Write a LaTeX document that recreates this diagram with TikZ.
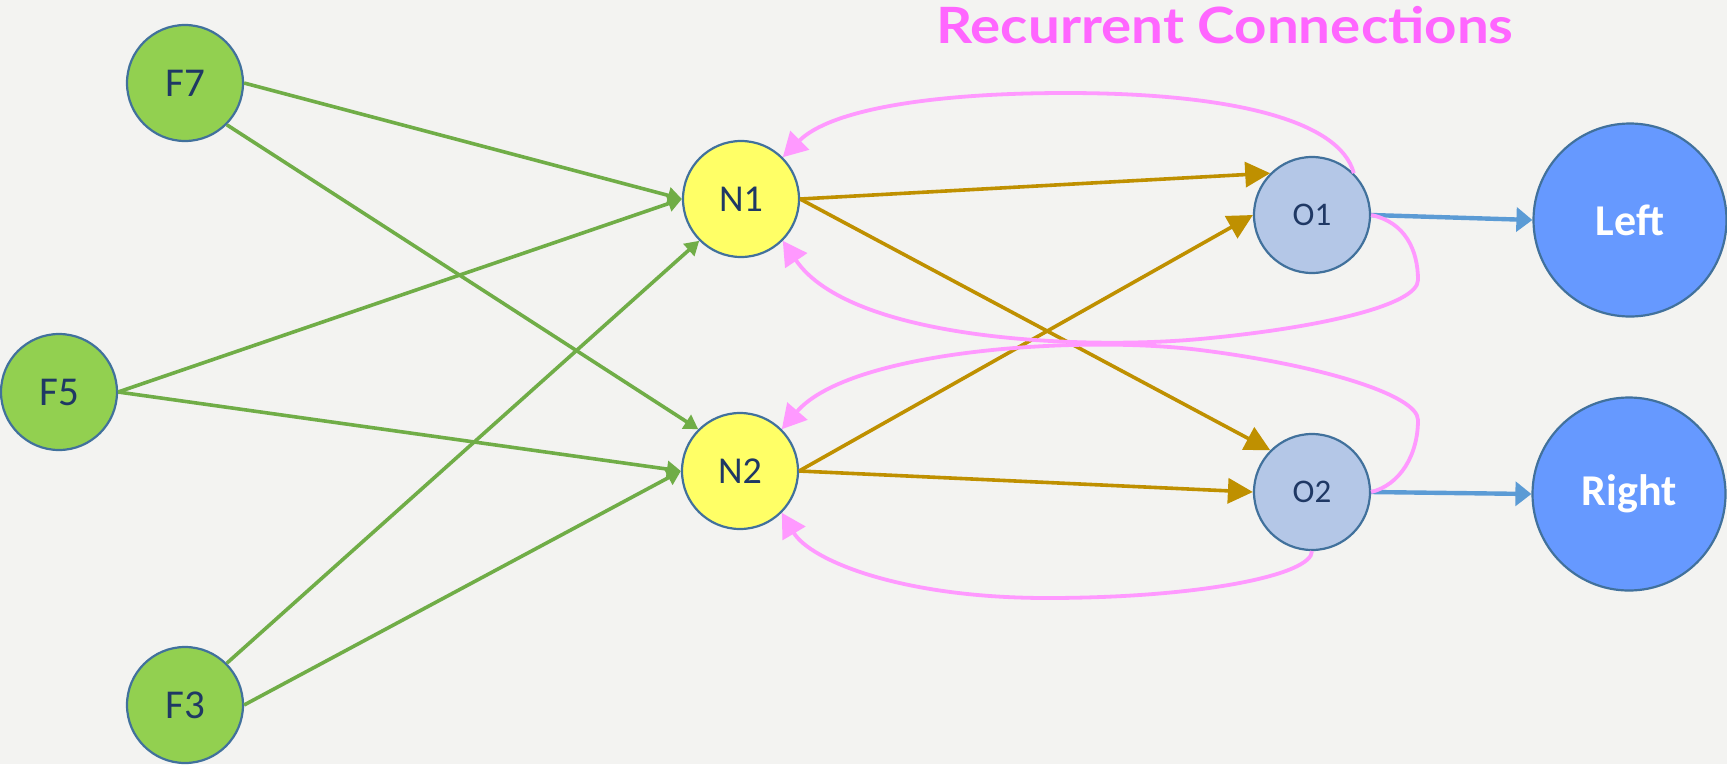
\documentclass[tikz,border=0pt]{standalone}
\usepackage{fontspec}
\usepackage{graphicx}
\setmainfont{Carlito}
\newfontfamily\titlefont{Lato}
\usetikzlibrary{arrows.meta}
\definecolor{bgc}{HTML}{F3F3F1}
\definecolor{ringc}{HTML}{41719C}
\definecolor{txtc}{HTML}{1F3864}
\definecolor{fgreen}{HTML}{92D050}
\definecolor{nyellow}{HTML}{FFFF66}
\definecolor{olblue}{HTML}{B4C7E7}
\definecolor{outblue}{HTML}{6699FF}
\definecolor{egreen}{HTML}{70AD47}
\definecolor{egold}{HTML}{BF9000}
\definecolor{eblue}{HTML}{5B9BD5}
\definecolor{epink}{HTML}{FF99FF}
\definecolor{tpink}{HTML}{FF66FF}
\tikzset{
  neuron/.style={circle, draw=ringc, line width=2.2pt, inner sep=0pt, text=txtc},
  fnode/.style={neuron, fill=fgreen, minimum size=116pt, font=\fontsize{41}{41}\selectfont},
  nnode/.style={neuron, fill=nyellow, minimum size=116pt, font=\fontsize{38}{38}\selectfont},
  onode/.style={neuron, fill=olblue, minimum size=116pt, font=\fontsize{33}{33}\selectfont},
  outnode/.style={neuron, fill=outblue, minimum size=193pt, text=white, font=\fontsize{44}{44}\selectfont\bfseries},
  garrow/.style={draw=egreen, line width=3.6pt, -{Triangle[length=14pt,width=16pt]}},
  darrow/.style={draw=egold, line width=3.6pt, -{Triangle[length=25pt,width=25pt]}},
  barrow/.style={draw=eblue, line width=4.4pt, -{Triangle[length=16pt,width=24pt]}},
  parrow/.style={draw=epink, line width=3.8pt, -{Triangle[length=24pt,width=26pt]}},
}
\begin{document}
\begin{tikzpicture}[x=1pt,y=-1pt]
\fill[bgc] (0,0) rectangle (1727,764);
\useasboundingbox (0,0) rectangle (1727,764);

\node[anchor=base, text=tpink, inner sep=0pt, font=\titlefont\bfseries\fontsize{50}{50}\selectfont] (title) at (1225,43) {\scalebox{1.13}[1]{Recurrent Connections}};

\node[fnode] (F7) at (185,83) {F7};
\node[fnode] (F5) at (59,392) {F5};
\node[fnode] (F3) at (185,705) {F3};
\node[nnode] (N1) at (741,199) {N1};
\node[nnode] (N2) at (740,471) {N2};
\node[onode] (O1) at (1312,215) {O1};
\node[onode] (O2) at (1312,492) {O2};
\node[outnode] (L) at (1630,220) {Left};
\node[outnode] (R) at (1629,494) {Right};

\draw[garrow] (F7.east) -- (N1.west);
\draw[garrow] (F7.south east) -- (N2.north west);
\draw[garrow] (F5.east) -- (N1.west);
\draw[garrow] (F5.east) -- (N2.west);
\draw[garrow] (F3.north east) -- (N1.south west);
\draw[garrow] (F3.east) -- (N2.west);

\draw[darrow] (N1.east) -- (O1.north west);
\draw[darrow] (N1.east) -- (O2.north west);
\draw[darrow] (N2.east) -- (O1.west);
\draw[darrow] (N2.east) -- (O2.west);

\draw[barrow] (O1.east) -- (L.west);
\draw[barrow] (O2.east) -- (R.west);

\draw[parrow] (O1.north east) .. controls (1340,120) and (1230,93) .. (1066,93)
  .. controls (930,93) and (830,110) .. (N1.north east);
\draw[parrow] (O1.east) .. controls (1405,222) and (1418,250) .. (1418,280)
  .. controls (1418,305) and (1320,328) .. (1200,339)
  .. controls (1080,350) and (850,340) .. (N1.south east);
\draw[parrow] (O2.east) .. controls (1400,485) and (1418,455) .. (1418,420)
  .. controls (1418,395) and (1320,365) .. (1200,350)
  .. controls (1080,335) and (850,350) .. (N2.north east);
\draw[parrow] (O2.south) .. controls (1312,575) and (1200,598) .. (1047,598)
  .. controls (900,598) and (810,560) .. (N2.south east);
\end{tikzpicture}
\end{document}
